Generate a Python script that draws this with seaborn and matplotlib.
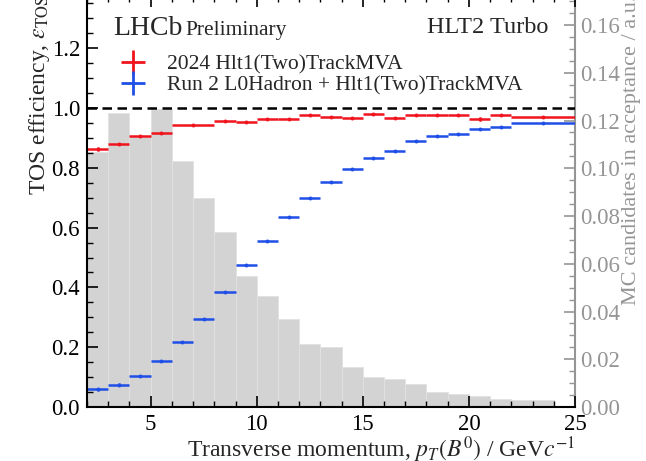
import numpy as np
import pandas as pd
import matplotlib
matplotlib.use("Agg")
import matplotlib.pyplot as plt
import seaborn as sns
from matplotlib.lines import Line2D
from matplotlib.ticker import MultipleLocator

# ---------------- data ----------------
hist_edges = list(range(2, 25))
hist_vals = [0.107, 0.1232, 0.113, 0.1248, 0.1031, 0.0876, 0.0733, 0.0549, 0.0465,
             0.0369, 0.0264, 0.0251, 0.0166, 0.0126, 0.0117, 0.0096, 0.0063, 0.0054,
             0.0046, 0.0034, 0.0029, 0.0029]

red_edges = [2, 3, 4, 5, 6, 8, 9, 10, 11, 12, 13, 14, 15, 16, 17, 18, 19, 20, 21, 22, 25]
red_eff = [0.862, 0.879, 0.907, 0.916, 0.942, 0.958, 0.952, 0.962, 0.964, 0.975,
           0.970, 0.965, 0.979, 0.965, 0.978, 0.975, 0.977, 0.962, 0.978, 0.971]
red_err = [0.006, 0.004, 0.003, 0.003, 0.002, 0.002, 0.002, 0.002, 0.002, 0.002,
           0.002, 0.002, 0.002, 0.002, 0.002, 0.003, 0.003, 0.007, 0.003, 0.002]

blue_edges = [2, 3, 4, 5, 6, 7, 8, 9, 10, 11, 12, 13, 14, 15, 16, 17, 18, 19, 20, 21, 22, 25]
blue_eff = [0.059, 0.075, 0.105, 0.154, 0.217, 0.294, 0.386, 0.476, 0.556, 0.634,
            0.700, 0.751, 0.796, 0.832, 0.857, 0.891, 0.907, 0.914, 0.929, 0.936, 0.949]
blue_err = [0.006, 0.004, 0.003, 0.003, 0.003, 0.003, 0.003, 0.003, 0.003, 0.003,
            0.003, 0.003, 0.003, 0.003, 0.003, 0.003, 0.003, 0.003, 0.003, 0.003, 0.002]

label_red = "2024 Hlt1(Two)TrackMVA"
label_blue = "Run 2 L0Hadron + Hlt1(Two)TrackMVA"
xlabel = r"Transverse momentum, $p_T(B^0)$ / GeV$c^{-1}$"
ylabel = r"TOS efficiency, $\varepsilon_{\rm TOS}$"
y2label = "MC candidates in acceptance / a.u."

# ---------------- style ----------------
sns.set_theme(style="ticks")
plt.rcParams['font.family'] = ['Liberation Serif', 'DejaVu Serif']
plt.rcParams['mathtext.fontset'] = 'stix'

RED = '#f0141e'
BLUE = '#1f4fe6'
GRAY_BAR = '#d3d3d3'
GRAY_TXT = '#959595'

fig = plt.figure(figsize=(6.46, 4.61), dpi=100)
ax = fig.add_axes([87 / 646, 54 / 461, 488 / 646, 411 / 461])
ax2 = ax.twinx()

# histogram on secondary axis
hist_df = pd.DataFrame({
    "pt": (np.array(hist_edges[:-1]) + np.array(hist_edges[1:])) / 2,
    "w": hist_vals,
})
sns.histplot(data=hist_df, x="pt", weights="w", bins=hist_edges, ax=ax2,
             color=GRAY_BAR, alpha=1.0, edgecolor='#e2e2e2', linewidth=0.6)
ax2.set_ylim(0, 411 / 2387)
ax2.set_ylabel(y2label, color=GRAY_TXT, fontsize=16, loc='top')
ax2.yaxis.set_label_coords(1.097, 1.0)
ax2.yaxis.set_major_locator(MultipleLocator(0.02))
ax2.yaxis.set_minor_locator(MultipleLocator(0.005))
ax2.yaxis.set_major_formatter(matplotlib.ticker.FormatStrFormatter('%.2f'))
ax2.tick_params(axis='y', which='both', direction='in', colors=GRAY_TXT,
                labelsize=16.5, pad=4)
ax2.tick_params(axis='y', which='major', length=8, width=1.2)
ax2.tick_params(axis='y', which='minor', length=4.5, width=1.0)
for s in ['left', 'top', 'bottom']:
    ax2.spines[s].set_visible(False)
ax2.spines['right'].set_color(GRAY_TXT)
ax2.spines['right'].set_linewidth(1.5)

ax.set_zorder(ax2.get_zorder() + 1)
ax.patch.set_visible(False)

# efficiency points
for edges, eff, err, col in [(red_edges, red_eff, red_err, RED),
                             (blue_edges, blue_eff, blue_err, BLUE)]:
    e = np.array(edges, dtype=float)
    xc = (e[:-1] + e[1:]) / 2
    hw = (e[1:] - e[:-1]) / 2
    ax.errorbar(xc, eff, xerr=hw, yerr=err, fmt='none', ecolor=col,
                elinewidth=1.8, capsize=0)
    sns.scatterplot(x=xc, y=eff, ax=ax, color=col, s=8, linewidth=0, zorder=3)

ax.axhline(1.0, color='black', lw=1.8, ls=(0, (3.8, 2.2)))

ax.set_xlim(2, 25)
ax.set_ylim(0, 411 / 299)
ax.xaxis.set_major_locator(MultipleLocator(5))
ax.xaxis.set_minor_locator(MultipleLocator(1))
ax.yaxis.set_major_locator(MultipleLocator(0.2))
ax.yaxis.set_minor_locator(MultipleLocator(0.05))
ax.yaxis.set_major_formatter(matplotlib.ticker.FormatStrFormatter('%.1f'))
ax.tick_params(which='both', direction='in', top=True, right=False,
               labelsize=16.5, colors='black', pad=5)
ax.tick_params(axis='x', which='both', pad=5)
ax.tick_params(which='major', length=8, width=1.2)
ax.tick_params(which='minor', length=4.5, width=1.0)
ax.spines['right'].set_visible(False)
for s in ['left', 'top', 'bottom']:
    ax.spines[s].set_linewidth(1.5)
    ax.spines[s].set_color('black')

ax.set_xlabel(xlabel, fontsize=17, loc='right')
ax.set_ylabel(ylabel, fontsize=17, loc='top')
ax.yaxis.set_label_coords(-0.072, 1.0)
ax.xaxis.set_label_coords(1.0, -0.067)

# texts
ax.text(26 / 488, 1 - 39 / 411, "LHCb", transform=ax.transAxes, fontsize=20,
        ha='left', va='baseline')
ax.text(98 / 488, 1 - 39 / 411, "Preliminary", transform=ax.transAxes, fontsize=15.5,
        ha='left', va='baseline')
ax.text(461 / 488, 1 - 37 / 411, "HLT2 Turbo", transform=ax.transAxes, fontsize=17.5,
        ha='right', va='baseline')

handles = [Line2D([], [], marker='+', markersize=17, mew=2, ls='none', color=RED),
           Line2D([], [], marker='+', markersize=17, mew=2, ls='none', color=BLUE)]
ax.legend(handles, [label_red, label_blue], loc='upper left',
          bbox_to_anchor=(0.045, 0.885), frameon=False, fontsize=15.5,
          handlelength=1.2, handletextpad=1.0, labelspacing=0.05, borderpad=0)

fig.savefig("out.png", dpi=100)
